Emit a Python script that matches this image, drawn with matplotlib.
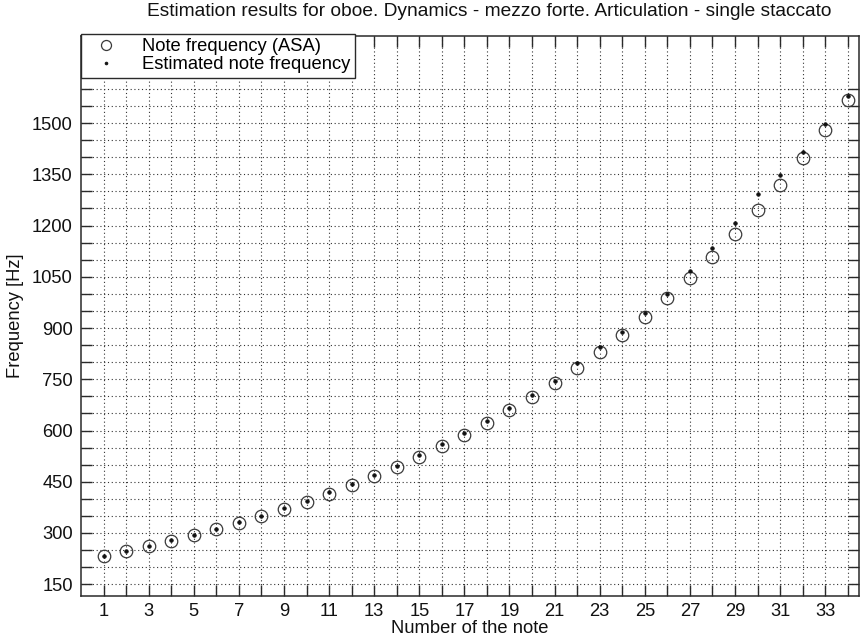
import matplotlib
matplotlib.use("Agg")
import matplotlib.pyplot as plt
from matplotlib.ticker import FixedLocator, FuncFormatter

plt.rcParams['font.family'] = ['Liberation Sans', 'DejaVu Sans']

# Note index (oboe range, A#3 .. G6)
note_number = list(range(1, 35))

# Reference frequencies of the notes (ASA equal temperament), Hz
asa_freq = [233.08, 246.94, 261.63, 277.18, 293.66, 311.13, 329.63, 349.23,
            369.99, 392.00, 415.30, 440.00, 466.16, 493.88, 523.25, 554.37,
            587.33, 622.25, 659.26, 698.46, 739.99, 783.99, 830.61, 880.00,
            932.33, 987.77, 1046.50, 1108.73, 1174.66, 1244.51, 1318.51,
            1396.91, 1479.98, 1567.98]

# Estimated frequencies, Hz
est_freq = [234, 248, 263, 279, 295, 313, 331, 351,
            374, 395, 419, 443, 471, 497, 527, 560,
            592, 628, 665, 703, 745, 798, 845, 889,
            943, 1000, 1067, 1135, 1207, 1292, 1348,
            1416, 1496, 1578]

x_tick_labels = [str(n) if n % 2 == 1 else "" for n in note_number]
y_ticks = list(range(150, 1601, 50))
y_labelled = [150, 300, 450, 600, 750, 900, 1050, 1200, 1350, 1500]

W, H = 865, 639
fig = plt.figure(figsize=(W / 100, H / 100), dpi=100)
left, right, top, bottom = 81, 859, 36, 596
ax = fig.add_axes([left / W, 1 - bottom / H, (right - left) / W, (bottom - top) / H])

axis_col = '#2a2a2a'
fs = 13.2

ax.plot(note_number, asa_freq, linestyle='none', marker='o', markersize=9,
        markerfacecolor='none', markeredgecolor='#3a3a3a', markeredgewidth=0.9,
        label='Note frequency (ASA)')
ax.plot(note_number, est_freq, linestyle='none', marker='o', markersize=2.6,
        markerfacecolor='#111111', markeredgecolor='#111111', markeredgewidth=0.5,
        label='Estimated note frequency')

ax.set_xlim(0, 34.5)
ax.set_ylim(115.5, 1755)

ax.xaxis.set_major_locator(FixedLocator(note_number))
ax.set_xticklabels(x_tick_labels)
ax.yaxis.set_major_locator(FixedLocator(y_ticks))
ax.yaxis.set_major_formatter(FuncFormatter(
    lambda v, p: f"{int(round(v))}" if int(round(v)) in y_labelled else ""))

ax.tick_params(axis='both', direction='in', length=8, width=1.0, color=axis_col,
               labelsize=fs, labelcolor='#111111', top=True, right=True)
ax.tick_params(axis='x', pad=5)
ax.tick_params(axis='y', pad=6)
for s in ax.spines.values():
    s.set_color(axis_col)
    s.set_linewidth(1.1)

ax.grid(True, which='major', linestyle=(0, (1, 2.4)), color='#333333', linewidth=0.8)
ax.set_axisbelow(True)

ax.set_xlabel('Number of the note', fontsize=fs, color='#111111', labelpad=0)
ax.set_ylabel('Frequency [Hz]', fontsize=fs, color='#111111', labelpad=6)
fig.text(489 / W, 1 - 12 / H, 'Estimation results for oboe. Dynamics - mezzo forte. '
         'Articulation - single staccato', ha='center', va='center',
         fontsize=13.8, color='#111111')

leg = ax.legend(loc='upper left', bbox_to_anchor=(0, 1.004), borderaxespad=0,
                fontsize=fs, fancybox=False, framealpha=1, edgecolor=axis_col,
                handlelength=2.2, handletextpad=0.9, borderpad=0.25,
                labelspacing=0.05, markerscale=0.8)
leg.get_frame().set_linewidth(1.0)

fig.savefig('out.png', dpi=100, facecolor='white')
